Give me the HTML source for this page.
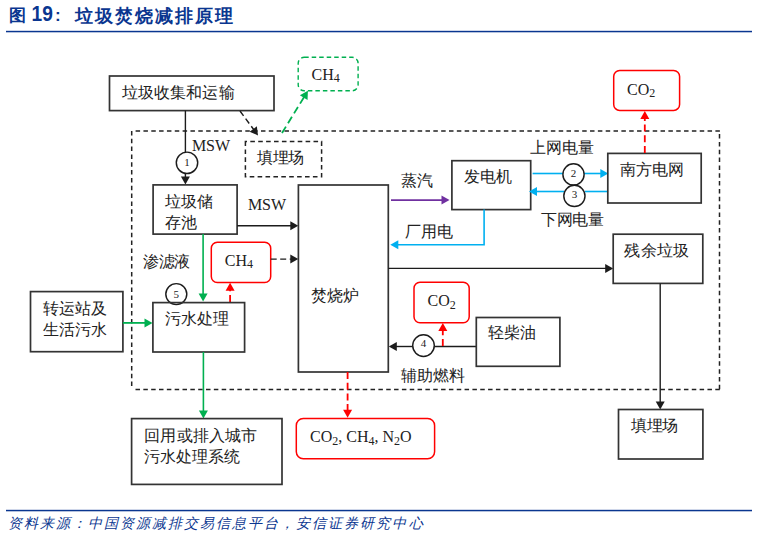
<!DOCTYPE html>
<html><head><meta charset="utf-8"><style>
html,body{margin:0;padding:0;background:#fff;width:758px;height:539px;overflow:hidden}
svg{display:block}
</style></head><body>
<svg width="758" height="539" viewBox="0 0 758 539">
<text x="9" y="21.3" font-family="Liberation Sans" font-size="17" font-weight="bold" fill="#0a3690">图</text>
<text x="0" y="0" transform="translate(31.5 21.2) scale(0.87 1)" font-family="Liberation Sans" font-size="22" font-weight="bold" fill="#0a3690">19</text>
<text x="55" y="21" font-family="Liberation Sans" font-size="17" font-weight="bold" fill="#0a3690">:</text>
<text x="75" y="21.5" font-family="Liberation Sans" font-size="18" font-weight="bold" fill="#0a3690" textLength="158" lengthAdjust="spacing">垃圾焚烧减排原理</text>
<rect x="6" y="30.8" width="746" height="1.5" fill="#0a3690"/>
<rect x="6" y="509.8" width="746" height="1.5" fill="#0a3690"/>
<text x="7.5" y="528" font-family="Liberation Serif" font-size="14" font-style="italic" font-weight="500" fill="#0a3690" textLength="415" lengthAdjust="spacing">资料来源：中国资源减排交易信息平台，安信证券研究中心</text>
<line x1="135.6" y1="131.1" x2="720.2" y2="131.1" stroke="#222" stroke-width="1.5" stroke-dasharray="4.5 3.335"/>
<line x1="719.5" y1="134.1" x2="719.5" y2="390.3" stroke="#222" stroke-width="1.5" stroke-dasharray="4.5 3.335"/>
<line x1="131.7" y1="130.9" x2="131.7" y2="386.4" stroke="#222" stroke-width="1.5" stroke-dasharray="4.5 3.335"/>
<line x1="135.5" y1="389.6" x2="720.2" y2="389.6" stroke="#222" stroke-width="1.5" stroke-dasharray="4.5 3.335"/>
<rect x="109.5" y="76" width="164.5" height="34.6" fill="none" stroke="#333333" stroke-width="1.7"/>
<text x="121.5" y="98.20" font-family="Liberation Serif" font-size="16" fill="#222222" textLength="113" lengthAdjust="spacing">垃圾收集和运输</text>
<line x1="185.4" y1="110.6" x2="185.4" y2="152" stroke="#1c1c1c" stroke-width="1.4"/>
<circle cx="187" cy="162.8" r="10.7" fill="#fff" stroke="#1c1c1c" stroke-width="1.45"/>
<text x="187" y="165.6" font-family="Liberation Serif" font-size="11" fill="#222222" text-anchor="middle">1</text>
<line x1="185.4" y1="173.4" x2="185.4" y2="177.6" stroke="#1c1c1c" stroke-width="1.4"/>
<polygon points="185.40,184.60 180.90,176.60 189.90,176.60" fill="#1c1c1c"/>
<text x="192" y="151.3" font-family="Liberation Serif" font-size="16" fill="#222222" textLength="38" lengthAdjust="spacing">MSW</text>
<line x1="240" y1="111" x2="253.84445736000845" y2="129.76693108801143" stroke="#1c1c1c" stroke-width="1.4" stroke-dasharray="6 3.5"/>
<polygon points="258.00,135.40 249.63,131.63 256.87,126.29" fill="#1c1c1c"/>
<path d="M245.4,141.5 V176.7 H321.6 V141.5 Z" fill="none" stroke="#222" stroke-width="1.5" stroke-dasharray="4.6 3.3"/>
<text x="257.4" y="163.20" font-family="Liberation Serif" font-size="16" fill="#222222" textLength="47" lengthAdjust="spacing">填埋场</text>
<line x1="282" y1="133" x2="304.238419647069" y2="96.76597262137784" stroke="#00b050" stroke-width="1.8" stroke-dasharray="7.5 4"/>
<polygon points="307.90,90.80 307.55,99.97 299.88,95.26" fill="#00b050"/>
<rect x="298.2" y="57.3" width="59.9" height="33.5" fill="none" stroke="#00b050" stroke-width="1.4" stroke-dasharray="4.5 3" rx="6" ry="6"/>
<text x="311.6" y="79.7" font-family="Liberation Serif" font-size="16" fill="#222222">CH<tspan font-size="12" dy="2.5">4</tspan><tspan dy="-2.5"></tspan></text>
<rect x="153.1" y="184.9" width="84.0" height="49.2" fill="none" stroke="#333333" stroke-width="1.7"/>
<text x="164.9" y="207.20" font-family="Liberation Serif" font-size="16" fill="#222222" textLength="48" lengthAdjust="spacing">垃圾储</text>
<text x="164.9" y="228.20" font-family="Liberation Serif" font-size="16" fill="#222222">存池</text>
<text x="248" y="209.8" font-family="Liberation Serif" font-size="16" fill="#222222" textLength="38" lengthAdjust="spacing">MSW</text>
<line x1="237.1" y1="225.7" x2="291.3" y2="225.7" stroke="#1c1c1c" stroke-width="1.4"/>
<polygon points="298.30,225.70 290.30,230.20 290.30,221.20" fill="#1c1c1c"/>
<rect x="298.4" y="185" width="89.9" height="187" fill="none" stroke="#333333" stroke-width="1.7"/>
<text x="310.6" y="300.70" font-family="Liberation Serif" font-size="16" fill="#222222" textLength="48" lengthAdjust="spacing">焚烧炉</text>
<line x1="391" y1="200.1" x2="442.5" y2="200.1" stroke="#7030a0" stroke-width="1.6"/>
<polygon points="449.50,200.10 441.50,204.60 441.50,195.60" fill="#7030a0"/>
<text x="401" y="186.20" font-family="Liberation Serif" font-size="16" fill="#222222">蒸汽</text>
<rect x="451.9" y="160.7" width="78.8" height="48.9" fill="none" stroke="#333333" stroke-width="1.7"/>
<text x="463.7" y="182.20" font-family="Liberation Serif" font-size="16" fill="#222222" textLength="48" lengthAdjust="spacing">发电机</text>
<line x1="532.6" y1="173.5" x2="563" y2="173.5" stroke="#00b0f0" stroke-width="1.6"/>
<line x1="584" y1="173.5" x2="601.3" y2="173.5" stroke="#00b0f0" stroke-width="1.6"/>
<polygon points="608.30,173.50 600.30,178.00 600.30,169.00" fill="#00b0f0"/>
<circle cx="573.5" cy="174.4" r="10.6" fill="#fff" stroke="#1c1c1c" stroke-width="1.45"/>
<text x="573.5" y="176.79999999999998" font-family="Liberation Serif" font-size="11" fill="#222222" text-anchor="middle">2</text>
<line x1="607.8" y1="191.5" x2="585" y2="191.5" stroke="#00b0f0" stroke-width="1.6"/>
<line x1="564" y1="191.5" x2="536.0" y2="191.5" stroke="#00b0f0" stroke-width="1.6"/>
<polygon points="529.00,191.50 537.00,187.00 537.00,196.00" fill="#00b0f0"/>
<circle cx="574.4" cy="195.9" r="10.6" fill="#fff" stroke="#1c1c1c" stroke-width="1.45"/>
<text x="574.4" y="198.0" font-family="Liberation Serif" font-size="11" fill="#222222" text-anchor="middle">3</text>
<text x="529.8" y="153.40" font-family="Liberation Serif" font-size="16" fill="#222222" textLength="64" lengthAdjust="spacing">上网电量</text>
<text x="541" y="224.60" font-family="Liberation Serif" font-size="16" fill="#222222" textLength="63" lengthAdjust="spacing">下网电量</text>
<rect x="607.8" y="153.4" width="93.4" height="49.6" fill="none" stroke="#333333" stroke-width="1.7"/>
<text x="619.7" y="174.50" font-family="Liberation Serif" font-size="16" fill="#222222" textLength="64" lengthAdjust="spacing">南方电网</text>
<line x1="644.8" y1="153" x2="644.8" y2="118.0" stroke="#ff0000" stroke-width="1.8" stroke-dasharray="7 3.7"/>
<polygon points="644.80,111.00 649.30,119.00 640.30,119.00" fill="#ff0000"/>
<rect x="613.7" y="70.4" width="65.9" height="40.0" fill="none" stroke="#ff0000" stroke-width="1.5" rx="6" ry="6"/>
<text x="627" y="94.7" font-family="Liberation Serif" font-size="16" fill="#222222">CO<tspan font-size="12" dy="2.5">2</tspan><tspan dy="-2.5"></tspan></text>
<polyline points="484.1,209.6 484.1,244.8 397,244.8" fill="none" stroke="#00b0f0" stroke-width="1.6"/>
<polygon points="390.30,244.80 398.30,240.30 398.30,249.30" fill="#00b0f0"/>
<text x="404.8" y="236.90" font-family="Liberation Serif" font-size="16" fill="#222222" textLength="48" lengthAdjust="spacing">厂用电</text>
<line x1="388.3" y1="268.4" x2="606.2" y2="268.4" stroke="#1c1c1c" stroke-width="1.4"/>
<polygon points="613.20,268.40 605.20,272.90 605.20,263.90" fill="#1c1c1c"/>
<rect x="613.2" y="234.2" width="89.6" height="49.2" fill="none" stroke="#333333" stroke-width="1.7"/>
<text x="624.3" y="255.80" font-family="Liberation Serif" font-size="16" fill="#222222" textLength="65" lengthAdjust="spacing">残余垃圾</text>
<line x1="660.2" y1="283.4" x2="660.2" y2="402.5" stroke="#1c1c1c" stroke-width="1.4"/>
<polygon points="660.20,409.50 655.70,401.50 664.70,401.50" fill="#1c1c1c"/>
<rect x="618.5" y="409.5" width="84.4" height="49.5" fill="none" stroke="#333333" stroke-width="1.7"/>
<text x="631.2" y="431.30" font-family="Liberation Serif" font-size="16" fill="#222222" textLength="47" lengthAdjust="spacing">填埋场</text>
<text x="143.3" y="266.50" font-family="Liberation Serif" font-size="16" fill="#222222" textLength="47" lengthAdjust="spacing">渗滤液</text>
<line x1="203.1" y1="234.1" x2="203.1" y2="294.6" stroke="#00b050" stroke-width="1.6"/>
<polygon points="203.10,301.60 198.60,293.60 207.60,293.60" fill="#00b050"/>
<rect x="211.3" y="242.2" width="59.4" height="40.3" fill="none" stroke="#ff0000" stroke-width="1.5" rx="6" ry="6"/>
<text x="224.8" y="265.9" font-family="Liberation Serif" font-size="16" fill="#222222">CH<tspan font-size="12" dy="2.5">4</tspan><tspan dy="-2.5"></tspan></text>
<line x1="270.7" y1="259.1" x2="291.3" y2="259.1" stroke="#1c1c1c" stroke-width="1.4" stroke-dasharray="6 3.5"/>
<polygon points="298.30,259.10 290.30,263.60 290.30,254.60" fill="#1c1c1c"/>
<line x1="230.1" y1="302" x2="230.1" y2="289.8" stroke="#ff0000" stroke-width="1.8" stroke-dasharray="7 3.7"/>
<polygon points="230.10,282.80 234.60,290.80 225.60,290.80" fill="#ff0000"/>
<circle cx="176.3" cy="294.1" r="10.5" fill="#fff" stroke="#1c1c1c" stroke-width="1.45"/>
<text x="176.3" y="297.8" font-family="Liberation Serif" font-size="11" fill="#222222" text-anchor="middle">5</text>
<rect x="152.9" y="302.6" width="91.7" height="49.4" fill="none" stroke="#333333" stroke-width="1.7"/>
<text x="165" y="324.40" font-family="Liberation Serif" font-size="16" fill="#222222" textLength="64" lengthAdjust="spacing">污水处理</text>
<rect x="30.5" y="291.6" width="92.4" height="60.1" fill="none" stroke="#333333" stroke-width="1.7"/>
<text x="43.1" y="314.00" font-family="Liberation Serif" font-size="16" fill="#222222" textLength="64" lengthAdjust="spacing">转运站及</text>
<text x="43.1" y="335.40" font-family="Liberation Serif" font-size="16" fill="#222222" textLength="64" lengthAdjust="spacing">生活污水</text>
<line x1="122.9" y1="322.9" x2="145.5" y2="322.9" stroke="#00b050" stroke-width="1.8"/>
<polygon points="152.50,322.90 144.50,327.40 144.50,318.40" fill="#00b050"/>
<rect x="414" y="282.2" width="55.2" height="40.6" fill="none" stroke="#ff0000" stroke-width="1.5" rx="6" ry="6"/>
<text x="427.5" y="306.1" font-family="Liberation Serif" font-size="16" fill="#222222">CO<tspan font-size="12" dy="2.5">2</tspan><tspan dy="-2.5"></tspan></text>
<line x1="476.3" y1="346.5" x2="434.3" y2="346.5" stroke="#1c1c1c" stroke-width="1.4"/>
<line x1="412.7" y1="346.5" x2="395.8" y2="346.5" stroke="#1c1c1c" stroke-width="1.4"/>
<polygon points="388.80,346.50 396.80,342.00 396.80,351.00" fill="#1c1c1c"/>
<circle cx="423.5" cy="345.6" r="10.8" fill="#fff" stroke="#1c1c1c" stroke-width="1.45"/>
<text x="423.5" y="347.0" font-family="Liberation Serif" font-size="11" fill="#222222" text-anchor="middle">4</text>
<line x1="442.8" y1="346" x2="442.8" y2="330.0" stroke="#ff0000" stroke-width="1.8" stroke-dasharray="7 3.7"/>
<polygon points="442.80,323.00 447.30,331.00 438.30,331.00" fill="#ff0000"/>
<rect x="476.3" y="317.5" width="83.6" height="48.8" fill="none" stroke="#333333" stroke-width="1.7"/>
<text x="488.2" y="338.40" font-family="Liberation Serif" font-size="16" fill="#222222" textLength="48" lengthAdjust="spacing">轻柴油</text>
<text x="401.1" y="381.20" font-family="Liberation Serif" font-size="16" fill="#222222" textLength="64" lengthAdjust="spacing">辅助燃料</text>
<line x1="203.4" y1="352" x2="203.4" y2="411.4" stroke="#00b050" stroke-width="1.6"/>
<polygon points="203.40,418.40 198.90,410.40 207.90,410.40" fill="#00b050"/>
<rect x="131.6" y="418.6" width="150.4" height="65.8" fill="none" stroke="#333333" stroke-width="1.7"/>
<text x="144.3" y="440.70" font-family="Liberation Serif" font-size="16" fill="#222222" textLength="113" lengthAdjust="spacing">回用或排入城市</text>
<text x="144.3" y="461.80" font-family="Liberation Serif" font-size="16" fill="#222222">污水处理系统</text>
<line x1="347.6" y1="372" x2="347.6" y2="410.8" stroke="#ff0000" stroke-width="1.8" stroke-dasharray="7 3.7"/>
<polygon points="347.60,417.80 343.10,409.80 352.10,409.80" fill="#ff0000"/>
<rect x="296.3" y="418.5" width="138.3" height="40.3" fill="none" stroke="#ff0000" stroke-width="1.5" rx="7" ry="7"/>
<text x="310" y="442.3" font-family="Liberation Serif" font-size="16" fill="#222222">CO<tspan font-size="12" dy="2.5">2</tspan><tspan dy="-2.5">, CH<tspan font-size="12" dy="2.5">4</tspan><tspan dy="-2.5">, N<tspan font-size="12" dy="2.5">2</tspan><tspan dy="-2.5">O</tspan></tspan></tspan></text>
</svg>
</body></html>
